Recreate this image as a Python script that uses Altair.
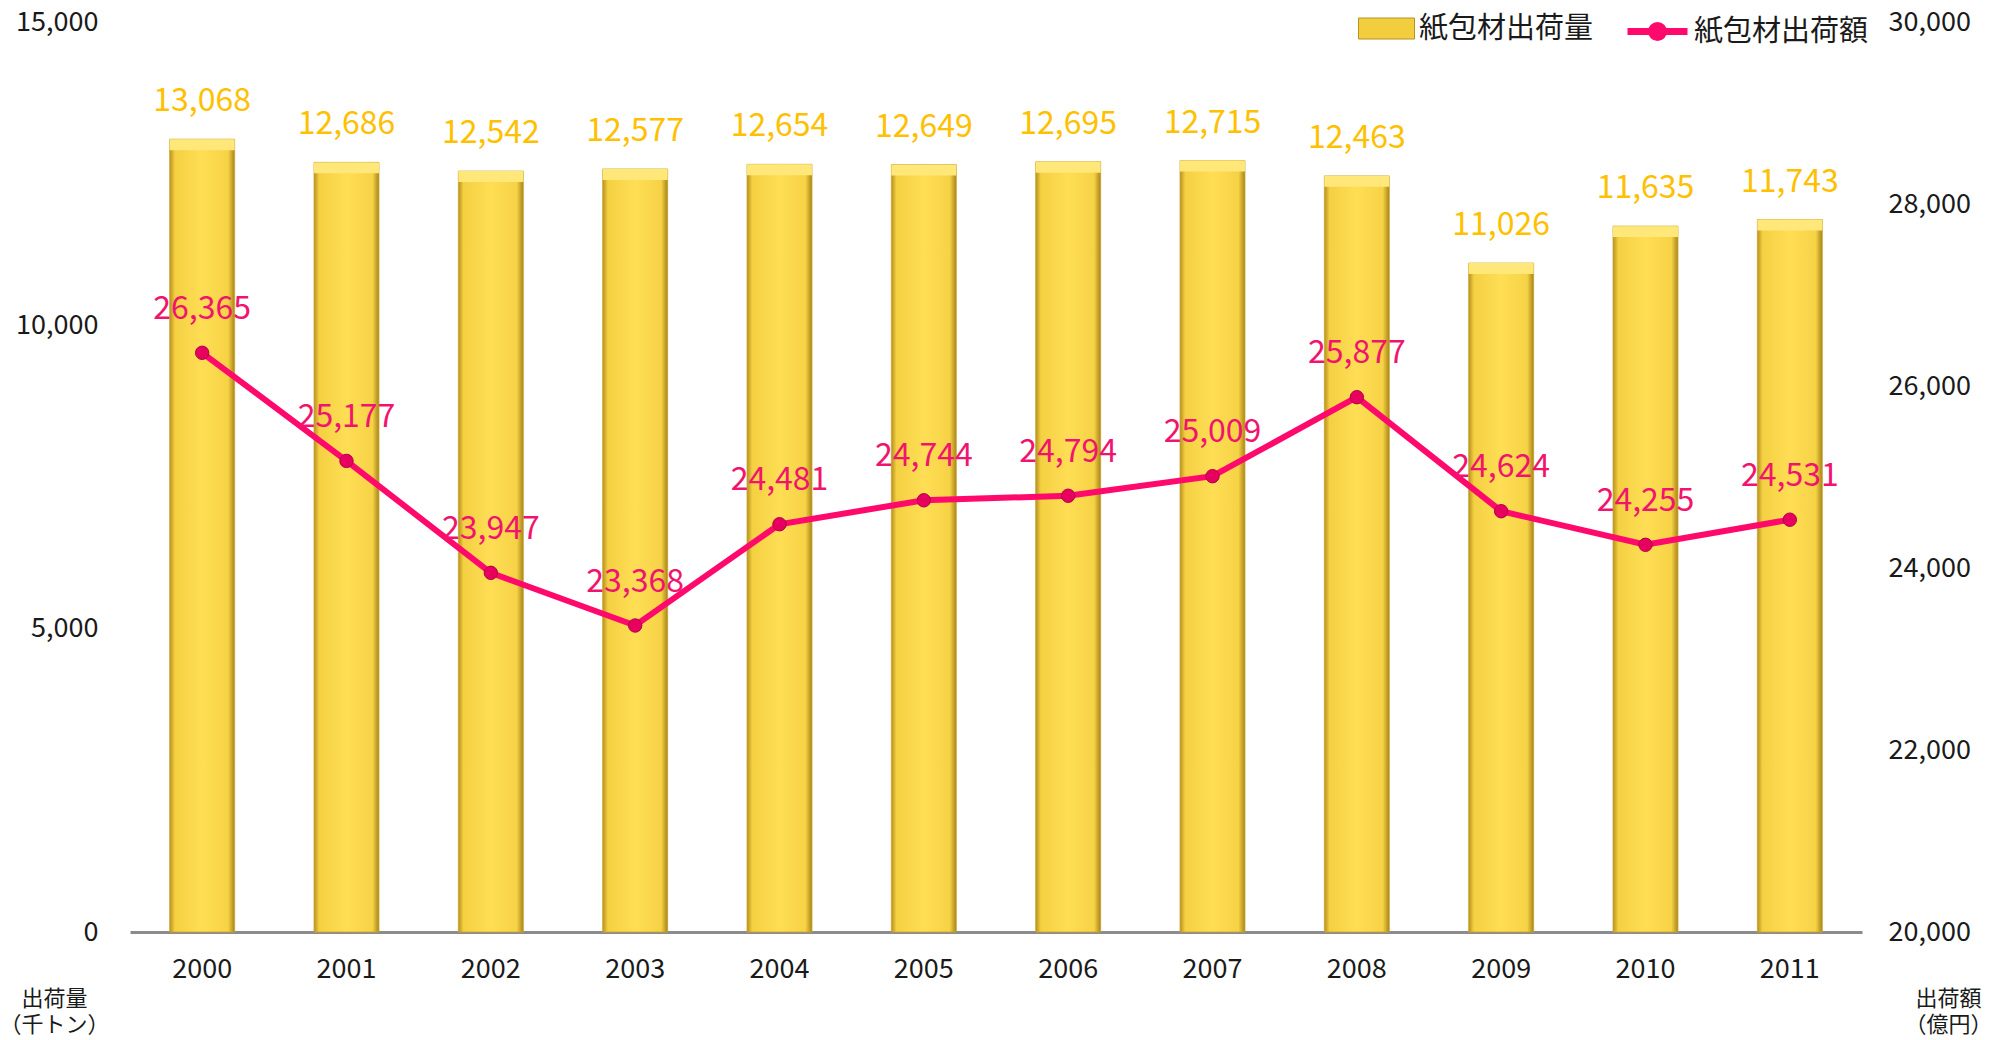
import altair as alt
import pandas as pd

years = ["2000", "2001", "2002", "2003", "2004", "2005", "2006", "2007", "2008", "2009", "2010", "2011"]
volume = [13068, 12686, 12542, 12577, 12654, 12649, 12695, 12715, 12463, 11026, 11635, 11743]
amount = [26365, 25177, 23947, 23368, 24481, 24744, 24794, 25009, 25877, 24624, 24255, 24531]

df = pd.DataFrame({
    "year": years,
    "volume": volume,
    "amount": amount,
    "s1": "紙包材出荷量",
    "s2": "紙包材出荷額",
})

FONT = "Noto Sans CJK JP"
x = alt.X("year:N", sort=years,
          scale=alt.Scale(paddingInner=0.55, paddingOuter=0.275),
          axis=alt.Axis(title=None, labelAngle=0, labelFont=FONT, labelFontSize=27,
                        labelColor="#1a1a1a", labelPadding=24, ticks=False,
                        domainColor="#8c8c8c", domainWidth=3))

y_left = alt.Y("volume:Q",
               scale=alt.Scale(domain=[0, 15000], nice=False),
               axis=alt.Axis(values=[0, 5000, 10000, 15000], format=",.0f", grid=False,
                             domain=False, ticks=False, labelFont=FONT, labelFontSize=27,
                             labelColor="#1a1a1a", labelPadding=32,
                             title=["出荷量", "（千トン）"], titleAngle=0, titleFont=FONT,
                             titleFontSize=22, titleFontWeight="normal", titleColor="#1a1a1a",
                             titleAlign="center", titleBaseline="middle", titleLineHeight=26,
                             titleX=-76, titleY=976))

bar_grad = alt.Gradient(
    gradient="linear", x1=0, y1=0, x2=1, y2=0,
    stops=[alt.GradientStop(offset=0, color="#B8901E"),
           alt.GradientStop(offset=0.08, color="#F4D042"),
           alt.GradientStop(offset=0.5, color="#FFDE55"),
           alt.GradientStop(offset=0.9, color="#F6D245"),
           alt.GradientStop(offset=1, color="#A88419")])

bars = alt.Chart(df).mark_bar(fill=bar_grad, stroke="#C9A227", strokeWidth=0.8).encode(
    x=x,
    y=y_left,
)

bar_legend = alt.Chart(df).mark_bar(opacity=0).encode(
    x=x,
    y=alt.Y("volume:Q"),
    fill=alt.Fill("s1:N", scale=alt.Scale(range=["#F2CE3E"]),
                  legend=alt.Legend(title=None, orient="none", legendX=1228, legendY=-22,
                                    symbolType="M-1,-0.375H1V0.375H-1Z", symbolSize=3136,
                                    symbolStrokeColor="#B8921F", symbolStrokeWidth=1,
                                    symbolOpacity=1, labelLimit=400,
                                    labelFont=FONT, labelFontSize=29, labelColor="#1a1a1a",
                                    labelOffset=4, padding=0)),
)

bar_top = alt.Chart(df).transform_calculate(top="datum.volume - 180").mark_bar(
    color="#FFE77A").encode(x=x, y=alt.Y("volume:Q"), y2="top:Q")

bar_text = alt.Chart(df).mark_text(font=FONT, fontSize=32, color="#FFC000", dy=-38).encode(
    x=x, y=alt.Y("volume:Q"), text=alt.Text("volume:Q", format=",.0f"))

y_right = alt.Y("amount:Q",
                scale=alt.Scale(domain=[20000, 30000], nice=False),
                axis=alt.Axis(orient="right", values=[20000, 22000, 24000, 26000, 28000, 30000],
                              format=",.0f", grid=False, domain=False, ticks=False,
                              labelFont=FONT, labelFontSize=27, labelColor="#1a1a1a",
                              labelPadding=26,
                              title=["出荷額", "（億円）"], titleAngle=0, titleFont=FONT,
                              titleFontSize=22, titleFontWeight="normal", titleColor="#1a1a1a",
                              titleAlign="center", titleBaseline="middle", titleLineHeight=26,
                              titleX=86, titleY=976))

line = alt.Chart(df).mark_line(strokeWidth=6, color="#FF0A6C").encode(
    x=x, y=y_right,
    stroke=alt.Stroke("s2:N", scale=alt.Scale(range=["#FF0A6C"]),
                      legend=alt.Legend(title=None, orient="none", legendX=1494, legendY=-24,
                                        symbolType="M-1,0H1M0.2,0A0.2,0.2 0 1,1 -0.2,0A0.2,0.2 0 1,1 0.2,0",
                                        symbolSize=3600, symbolStrokeWidth=7,
                                        symbolFillColor="#E0005C", labelLimit=400,
                                        labelFont=FONT, labelFontSize=29, labelColor="#1a1a1a",
                                        labelOffset=3, padding=0)),
)

pts = alt.Chart(df).mark_point(filled=True, size=180, color="#E8005F", stroke="#B0004A",
                               strokeWidth=1, opacity=1).encode(x=x, y=y_right)

line_text = alt.Chart(df).mark_text(font=FONT, fontSize=32, color="#F0146E", dy=-44).encode(
    x=x, y=alt.Y("amount:Q"), text=alt.Text("amount:Q", format=",.0f"))

left = alt.layer(bars, bar_legend, bar_top, bar_text)
right = alt.layer(line, pts, line_text)

chart = alt.layer(left, right).resolve_scale(y="independent").properties(
    width=1732, height=910,
    autosize=alt.AutoSizeParams(type="none"),
    padding={"left": 122, "top": 14, "right": 130, "bottom": 108},
).configure_view(stroke=None)

chart.save("out.html", embed_options={"renderer": "svg", "actions": False})
